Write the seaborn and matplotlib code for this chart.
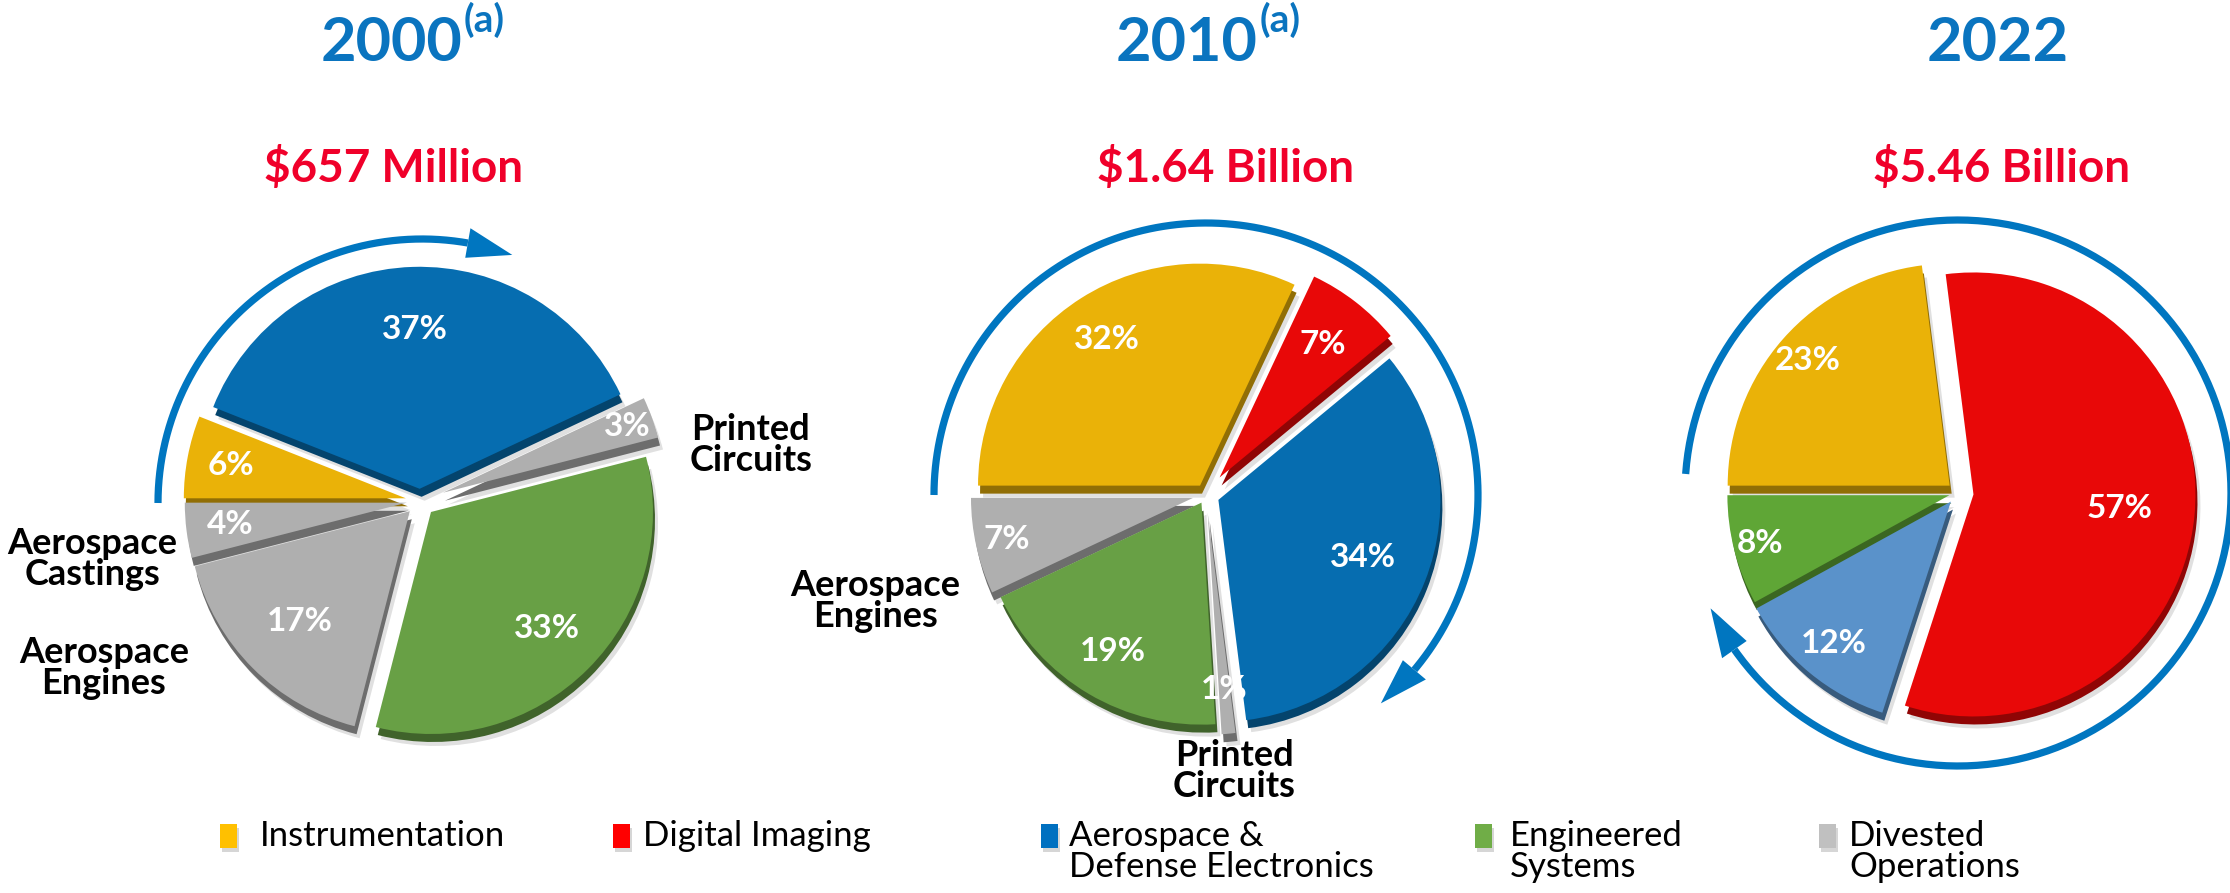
import numpy as np
import matplotlib
matplotlib.use("Agg")
import matplotlib.pyplot as plt
import seaborn as sns
from matplotlib.colors import to_rgb
from matplotlib.patches import Rectangle, Polygon

# ---------------- data ----------------
years = ["2000", "2010", "2022"]
year_notes = ["(a)", "(a)", ""]
revenues = ["$657 Million", "$1.64 Billion", "$5.46 Billion"]

groups = ["Instrumentation", "Digital Imaging", "Aerospace & Defense Electronics",
          "Engineered Systems", "Divested Operations"]
legend_labels = ["Instrumentation", "Digital Imaging", "Aerospace &\nDefense Electronics",
                 "Engineered\nSystems", "Divested\nOperations"]

pct2000 = [6, 37, 3, 33, 17, 4]
grp2000 = ["Instrumentation", "Aerospace & Defense Electronics", "Divested Operations",
           "Engineered Systems", "Divested Operations", "Divested Operations"]

pct2010 = [32, 7, 34, 1, 19, 7]
grp2010 = ["Instrumentation", "Digital Imaging", "Aerospace & Defense Electronics",
           "Divested Operations", "Engineered Systems", "Divested Operations"]

pct2022 = [23, 57, 12, 8]
grp2022 = ["Instrumentation", "Digital Imaging", "Aerospace & Defense Electronics",
           "Engineered Systems"]

side2000 = ["Printed\nCircuits", "Aerospace\nCastings", "Aerospace\nEngines"]
side2010 = ["Aerospace\nEngines", "Printed\nCircuits"]

# ---------------- style ----------------
sns.set_theme(style="white")
plt.rcParams["font.family"] = ["Lato", "DejaVu Sans"]

W, H = 2230, 893
slice_colors = {"Instrumentation": "#EAB208", "Digital Imaging": "#E80808",
                "Aerospace & Defense Electronics": "#066DB0",
                "Engineered Systems": "#68A045", "Divested Operations": "#AFAFAF"}
slice_colors_2022 = dict(slice_colors)
slice_colors_2022["Aerospace & Defense Electronics"] = "#5A92CA"
slice_colors_2022["Engineered Systems"] = "#5FA636"
legend_colors = ["#FFC000", "#FF0000", "#0070C0", "#70AD47", "#C0C0C0"]

TITLE_BLUE = "#0A74BF"
REV_RED = "#F0002A"
ARROW_BLUE = "#0076C0"

fig = plt.figure(figsize=(W / 100, H / 100), dpi=100)
ax = fig.add_axes([0, 0, 1, 1])

pies = [
    dict(pct=pct2000, grp=grp2000, colors=slice_colors, center=(420, 392), r=222,
         explode=[0.065, 0.055, 0.11, 0.07, 0.065, 0.06],
         d=[0.80, 0.72, 0.88, 0.74, 0.70, 0.80]),
    dict(pct=pct2010, grp=grp2010, colors=slice_colors, center=(1206, 398), r=222,
         explode=[0.05, 0.10, 0.06, 0.08, 0.04, 0.06],
         d=[0.78, 0.76, 0.70, 0.80, 0.78, 0.86]),
    dict(pct=pct2022, grp=grp2022, colors=slice_colors_2022, center=(1958, 400), r=222,
         explode=[0.05, 0.07, 0.05, 0.04],
         d=[0.85, 0.66, 0.83, 0.88]),
]

for p in pies:
    cols = [p["colors"][g] for g in p["grp"]]
    dark = [tuple(np.array(to_rgb(c)) * 0.62) for c in cols]
    cx, cy = p["center"]
    expl = [e * p["r"] for e in p["explode"]]
    # soft shadow
    ax.pie(p["pct"], colors=["#000000"] * len(cols), startangle=180, counterclock=False,
           explode=expl, radius=p["r"], center=(cx + 5, cy - 12),
           wedgeprops=dict(linewidth=0, alpha=0.12), frame=False)
    # extrusion (3D depth)
    ax.pie(p["pct"], colors=dark, startangle=180, counterclock=False,
           explode=expl, radius=p["r"], center=(cx + 2, cy - 8),
           wedgeprops=dict(linewidth=0), frame=False)
    wedges, _ = ax.pie(p["pct"], colors=cols, startangle=180, counterclock=False,
                       explode=expl, radius=p["r"], center=(cx, cy),
                       wedgeprops=dict(linewidth=0), frame=False)
    for w, v, dd in zip(wedges, p["pct"], p["d"]):
        mid = np.radians((w.theta1 + w.theta2) / 2)
        wx, wy = w.center
        ax.text(wx + dd * p["r"] * np.cos(mid), wy + dd * p["r"] * np.sin(mid),
                f"{v}%", color="white", fontsize=24, fontweight="bold",
                ha="center", va="center", zorder=5)


def arc_arrow(cx, cy, r, a0, a1, atip, lw=5.2, hw=30):
    t = np.radians(np.linspace(a0, a1, 300))
    ax.plot(cx + r * np.cos(t), cy + r * np.sin(t), color=ARROW_BLUE, lw=lw,
            solid_capstyle="butt", zorder=3)
    b = np.radians(a1)
    tp = np.radians(atip)
    verts = [(cx + (r - hw / 2) * np.cos(b), cy + (r - hw / 2) * np.sin(b)),
             (cx + (r + hw / 2) * np.cos(b), cy + (r + hw / 2) * np.sin(b)),
             (cx + r * np.cos(tp), cy + r * np.sin(tp))]
    ax.add_patch(Polygon(verts, closed=True, color=ARROW_BLUE, lw=0, zorder=3))


arc_arrow(422, 390, 264, 180, 80, 70)
arc_arrow(1206, 398, 272, 180, -40, -50)
arc_arrow(1958, 400, 273, 176, -145, -155)

# titles
title_x = [462, 1258, 1998]
for i in range(3):
    if year_notes[i]:
        ax.text(title_x[i], 850, years[i], color=TITLE_BLUE, fontsize=44,
                fontweight="bold", ha="right", va="center")
        ax.text(title_x[i] + 2, 873, year_notes[i], color=TITLE_BLUE, fontsize=28,
                fontweight="bold", ha="left", va="center")
    else:
        ax.text(title_x[i], 850, years[i], color=TITLE_BLUE, fontsize=44,
                fontweight="bold", ha="center", va="center")

rev_x = [394, 1226, 2002]
for x, t in zip(rev_x, revenues):
    ax.text(x, 725, t, color=REV_RED, fontsize=33, fontweight="bold",
            ha="center", va="center")

# side labels
side_pos_2000 = [(751, 448), (92, 334), (104, 225)]
side_pos_2010 = [(875, 292), (1234, 122)]
for (x, y), t in zip(side_pos_2000, side2000):
    ax.text(x, y, t, fontsize=26, fontweight="bold", color="black",
            ha="center", va="center", linespacing=0.95)
for (x, y), t in zip(side_pos_2010, side2010):
    ax.text(x, y, t, fontsize=26, fontweight="bold", color="black",
            ha="center", va="center", linespacing=0.95)

# legend
sq_x = [228, 621, 1049, 1483, 1827]
tx_x = [260, 643, 1069, 1510, 1849]
for sx, tx, c, lab in zip(sq_x, tx_x, legend_colors, legend_labels):
    ax.add_patch(Rectangle((sx - 8 + 2, 45 - 4), 17, 24, color="#bbbbbb", alpha=0.6, lw=0))
    ax.add_patch(Rectangle((sx - 8, 45), 17, 24, color=c, lw=0))
    ax.text(tx, 73, lab, fontsize=25, color="black", ha="left", va="top",
            linespacing=0.95)

ax.set_xlim(0, W)
ax.set_ylim(0, H)
ax.set_aspect("equal")
ax.axis("off")
fig.savefig("out.png", dpi=100, facecolor="white")
